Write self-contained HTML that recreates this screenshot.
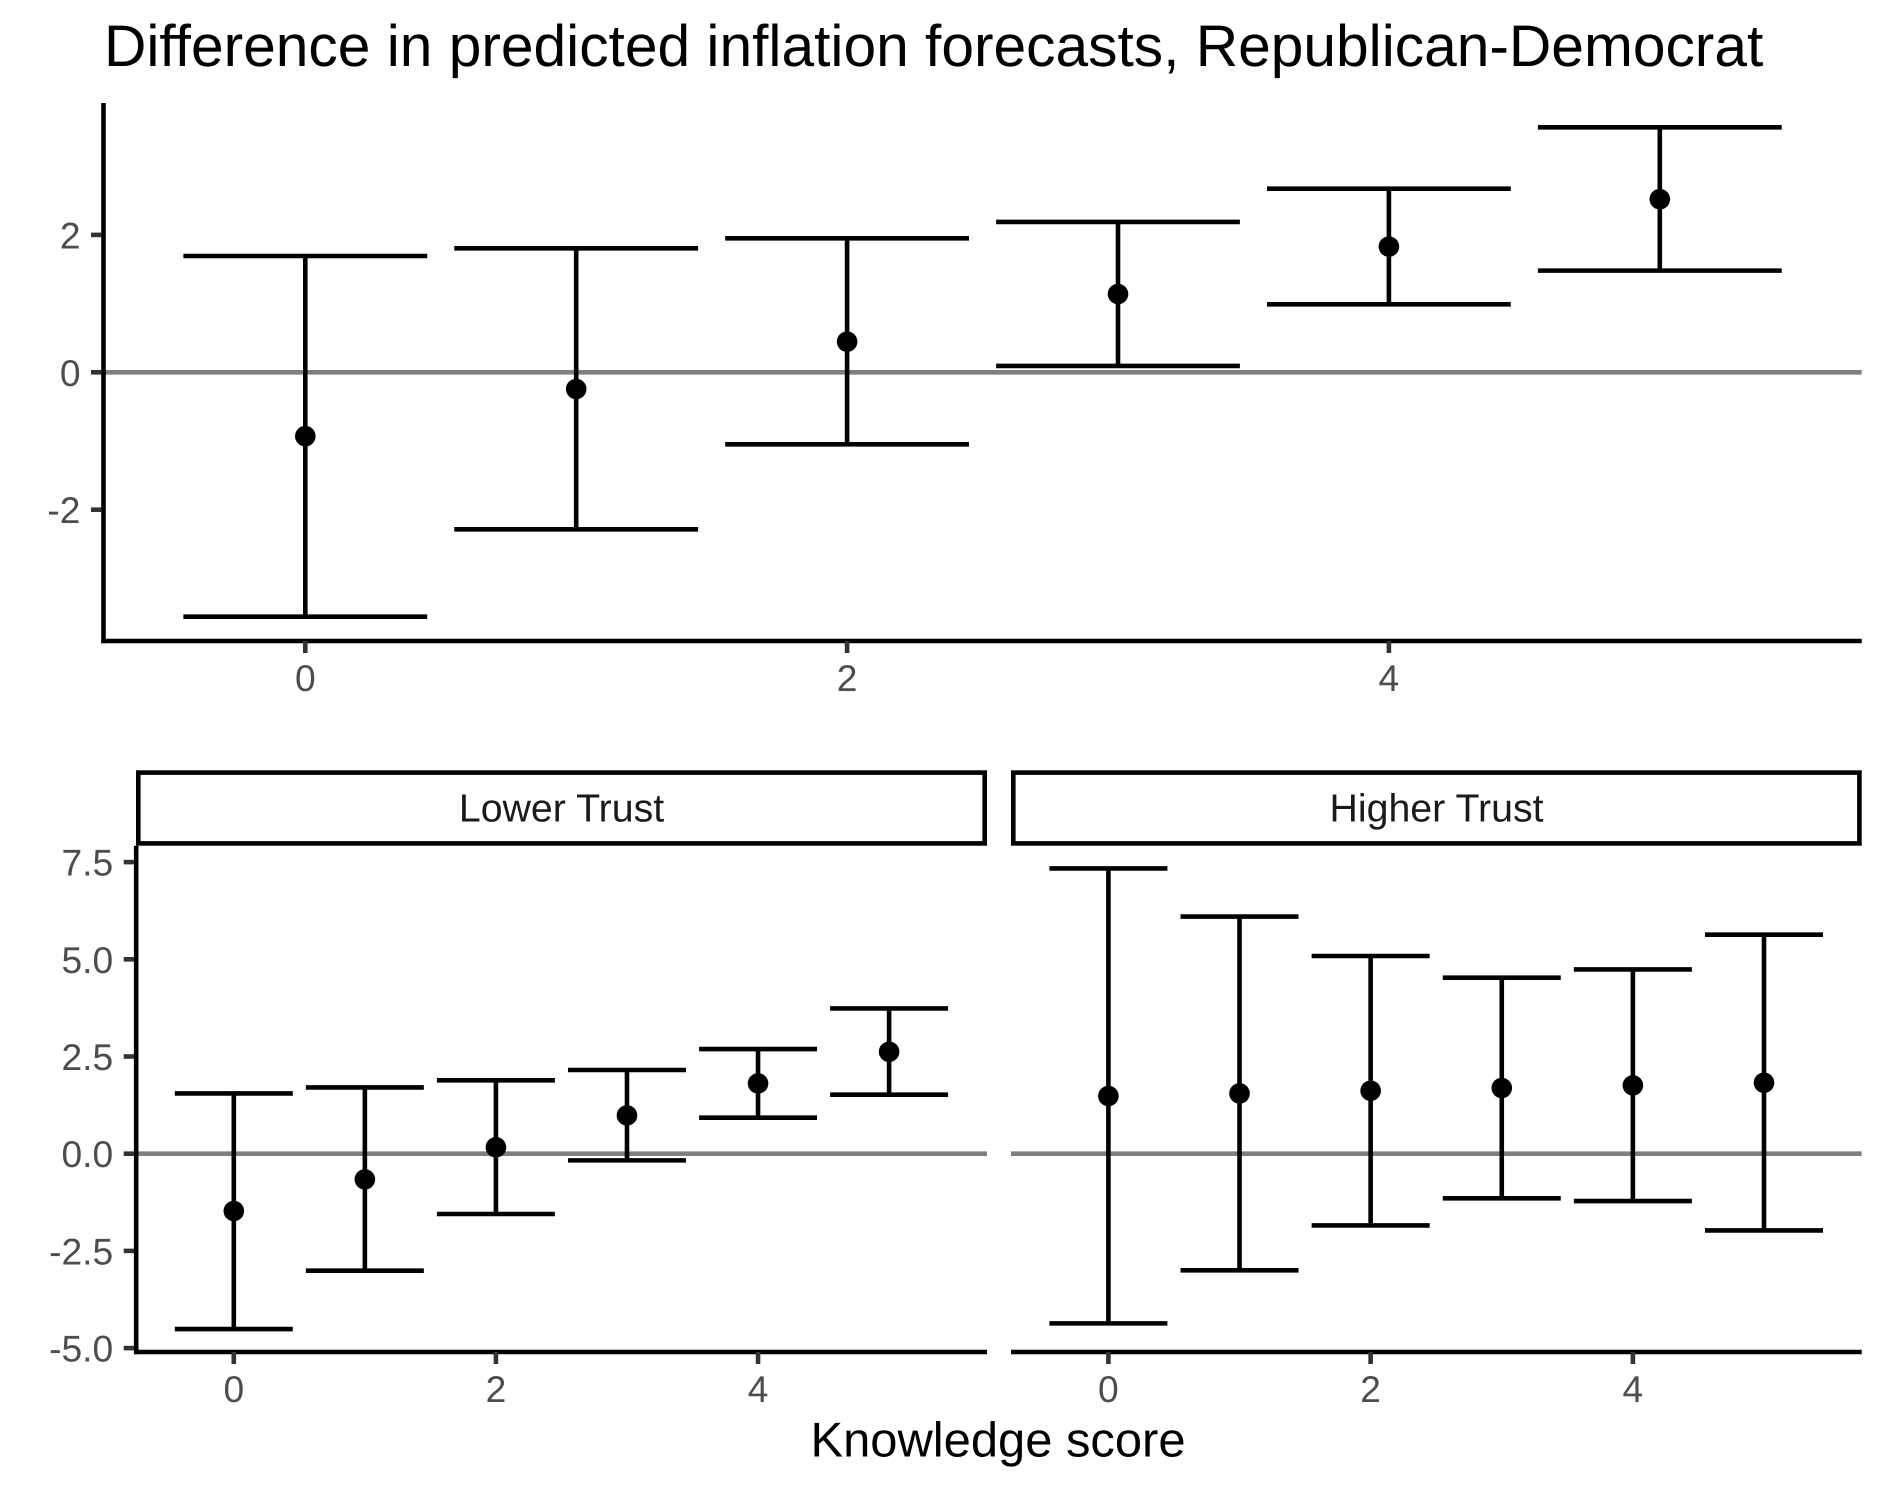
<!DOCTYPE html>
<html lang="en">
<head>
<meta charset="utf-8">
<title>Difference in predicted inflation forecasts</title>
<style>
html,body{margin:0;padding:0;background:#fff;}
svg{display:block;font-family:"Liberation Sans",Arial,Helvetica,sans-serif;font-variant-ligatures:none;text-rendering:geometricPrecision;}
</style>
</head>
<body>
<svg id="chart" xmlns="http://www.w3.org/2000/svg" width="1886" height="1492" viewBox="0 0 1886 1492">
  <rect x="0" y="0" width="1886" height="1492" fill="#ffffff"/>
  <text x="104" y="66" font-size="58.7" fill="#000000">Difference in predicted inflation forecasts, Republican-Democrat</text>
  <rect x="138.3" y="772.6" width="846.4" height="70.8" fill="#ffffff" stroke="#000000" stroke-width="4.6"/>
  <text x="561.5" y="821.7" font-size="39.3" text-anchor="middle" fill="#1a1a1a">Lower Trust</text>
  <rect x="1013.3" y="772.6" width="846.1" height="70.8" fill="#ffffff" stroke="#000000" stroke-width="4.6"/>
  <text x="1436.5" y="821.7" font-size="39.3" text-anchor="middle" fill="#1a1a1a">Higher Trust</text>
  <text x="998" y="1456.7" font-size="48.9" text-anchor="middle" fill="#000000">Knowledge score</text>
  <g id="marks"></g>
</svg>
<script>
const scores = [0, 1, 2, 3, 4, 5];
const xTickValues = [0, 2, 4];
const overallYTicks = [2, 0, -2];
const facetYTicks = [7.5, 5, 2.5, 0, -2.5, -5];
const facetYTickLabels = ['7.5', '5.0', '2.5', '0.0', '-2.5', '-5.0'];

const overallMean = [-0.93, -0.243, 0.446, 1.14, 1.83, 2.52];
const overallLow = [-3.557, -2.285, -1.048, 0.092, 0.99, 1.48];
const overallHigh = [1.693, 1.805, 1.95, 2.188, 2.673, 3.566];

const lowerTrustMean = [-1.474, -0.66, 0.165, 0.985, 1.808, 2.623];
const lowerTrustLow = [-4.51, -3.01, -1.551, -0.172, 0.926, 1.517];
const lowerTrustHigh = [1.55, 1.705, 1.888, 2.153, 2.692, 3.737];

const higherTrustMean = [1.484, 1.55, 1.62, 1.69, 1.758, 1.826];
const higherTrustLow = [-4.364, -3.0, -1.845, -1.148, -1.217, -1.973];
const higherTrustHigh = [7.338, 6.10, 5.085, 4.527, 4.74, 5.633];

const NS = 'http://www.w3.org/2000/svg';
const marks = document.getElementById('marks');
const LINE = 4.6;
const TICK_LEN = 12;
const TICK_FONT = 37.2;

function makeScale(zeroPx, pxPerUnit) {
  return function (v) { return zeroPx + v * pxPerUnit; };
}

function drawLine(parent, x1, y1, x2, y2, color) {
  const el = document.createElementNS(NS, 'line');
  el.setAttribute('x1', x1);
  el.setAttribute('y1', y1);
  el.setAttribute('x2', x2);
  el.setAttribute('y2', y2);
  el.setAttribute('stroke', color);
  el.setAttribute('stroke-width', LINE);
  parent.appendChild(el);
  return el;
}

function drawLabel(parent, x, y, str, anchor) {
  const el = document.createElementNS(NS, 'text');
  el.setAttribute('x', x);
  el.setAttribute('y', y);
  el.setAttribute('font-size', TICK_FONT);
  el.setAttribute('fill', '#4d4d4d');
  el.setAttribute('text-anchor', anchor);
  el.textContent = str;
  parent.appendChild(el);
  return el;
}

function drawPanel(cfg) {
  const x = cfg.x;
  const y = cfg.y;
  const group = document.createElementNS(NS, 'g');
  
  
  marks.appendChild(group);

  const zero = drawLine(group, cfg.left, y(0), cfg.right, y(0), '#7f7f7f');
  
  

  scores.forEach(function (score, i) {
    const cx = x(score);
    const stem = drawLine(group, cx, y(cfg.low[i]), cx, y(cfg.high[i]), '#000000');
    
    

    const capHigh = drawLine(group, x(score - 0.45), y(cfg.high[i]), x(score + 0.45), y(cfg.high[i]), '#000000');
    
    

    const capLow = drawLine(group, x(score - 0.45), y(cfg.low[i]), x(score + 0.45), y(cfg.low[i]), '#000000');
    
    

    const dot = document.createElementNS(NS, 'circle');
    dot.setAttribute('cx', cx);
    dot.setAttribute('cy', y(cfg.mean[i]));
    dot.setAttribute('r', 10.3);
    dot.setAttribute('fill', '#000000');
    
    
    group.appendChild(dot);
  });

  const xAxis = drawLine(group, cfg.axisStart, cfg.bottom, cfg.right, cfg.bottom, '#000000');
  
  

  xTickValues.forEach(function (v) {
    const tick = drawLine(group, x(v), cfg.bottom, x(v), cfg.bottom + TICK_LEN, '#333333');
    
    

    const label = drawLabel(group, x(v), cfg.bottom + 50, String(v), 'middle');
    
    
  });

  if (cfg.yTicks) {
    const yAxis = drawLine(group, cfg.left, cfg.top, cfg.left, cfg.bottom + 2.2, '#000000');
    
    

    cfg.yTicks.forEach(function (v, i) {
      const tick = drawLine(group, cfg.left - TICK_LEN - 0.5, y(v), cfg.left - 2, y(v), '#333333');
      
      

      const label = drawLabel(group, cfg.left - 23, y(v) + 13.5, cfg.yLabels[i], 'end');
      
      
    });
  }
}

drawPanel({
  name: 'overall',
  x: makeScale(305.3, 270.9),
  y: makeScale(372.3, -68.7),
  left: 103.5, axisStart: 101.3, right: 1861.7, top: 103, bottom: 641,
  mean: overallMean, low: overallLow, high: overallHigh,
  yTicks: overallYTicks,
  yLabels: overallYTicks.map(String)
});

drawPanel({
  name: 'lower-trust',
  x: makeScale(233.8, 131.06),
  y: makeScale(1153.7, -38.88),
  left: 136.2, axisStart: 134.7, right: 987, top: 845.7, bottom: 1352,
  mean: lowerTrustMean, low: lowerTrustLow, high: lowerTrustHigh,
  yTicks: facetYTicks,
  yLabels: facetYTickLabels
});

drawPanel({
  name: 'higher-trust',
  x: makeScale(1108.4, 131.12),
  y: makeScale(1153.7, -38.88),
  left: 1011, axisStart: 1011, right: 1861.7, top: 845.7, bottom: 1352,
  mean: higherTrustMean, low: higherTrustLow, high: higherTrustHigh,
  yTicks: null,
  yLabels: null
});
</script>
</body>
</html>
